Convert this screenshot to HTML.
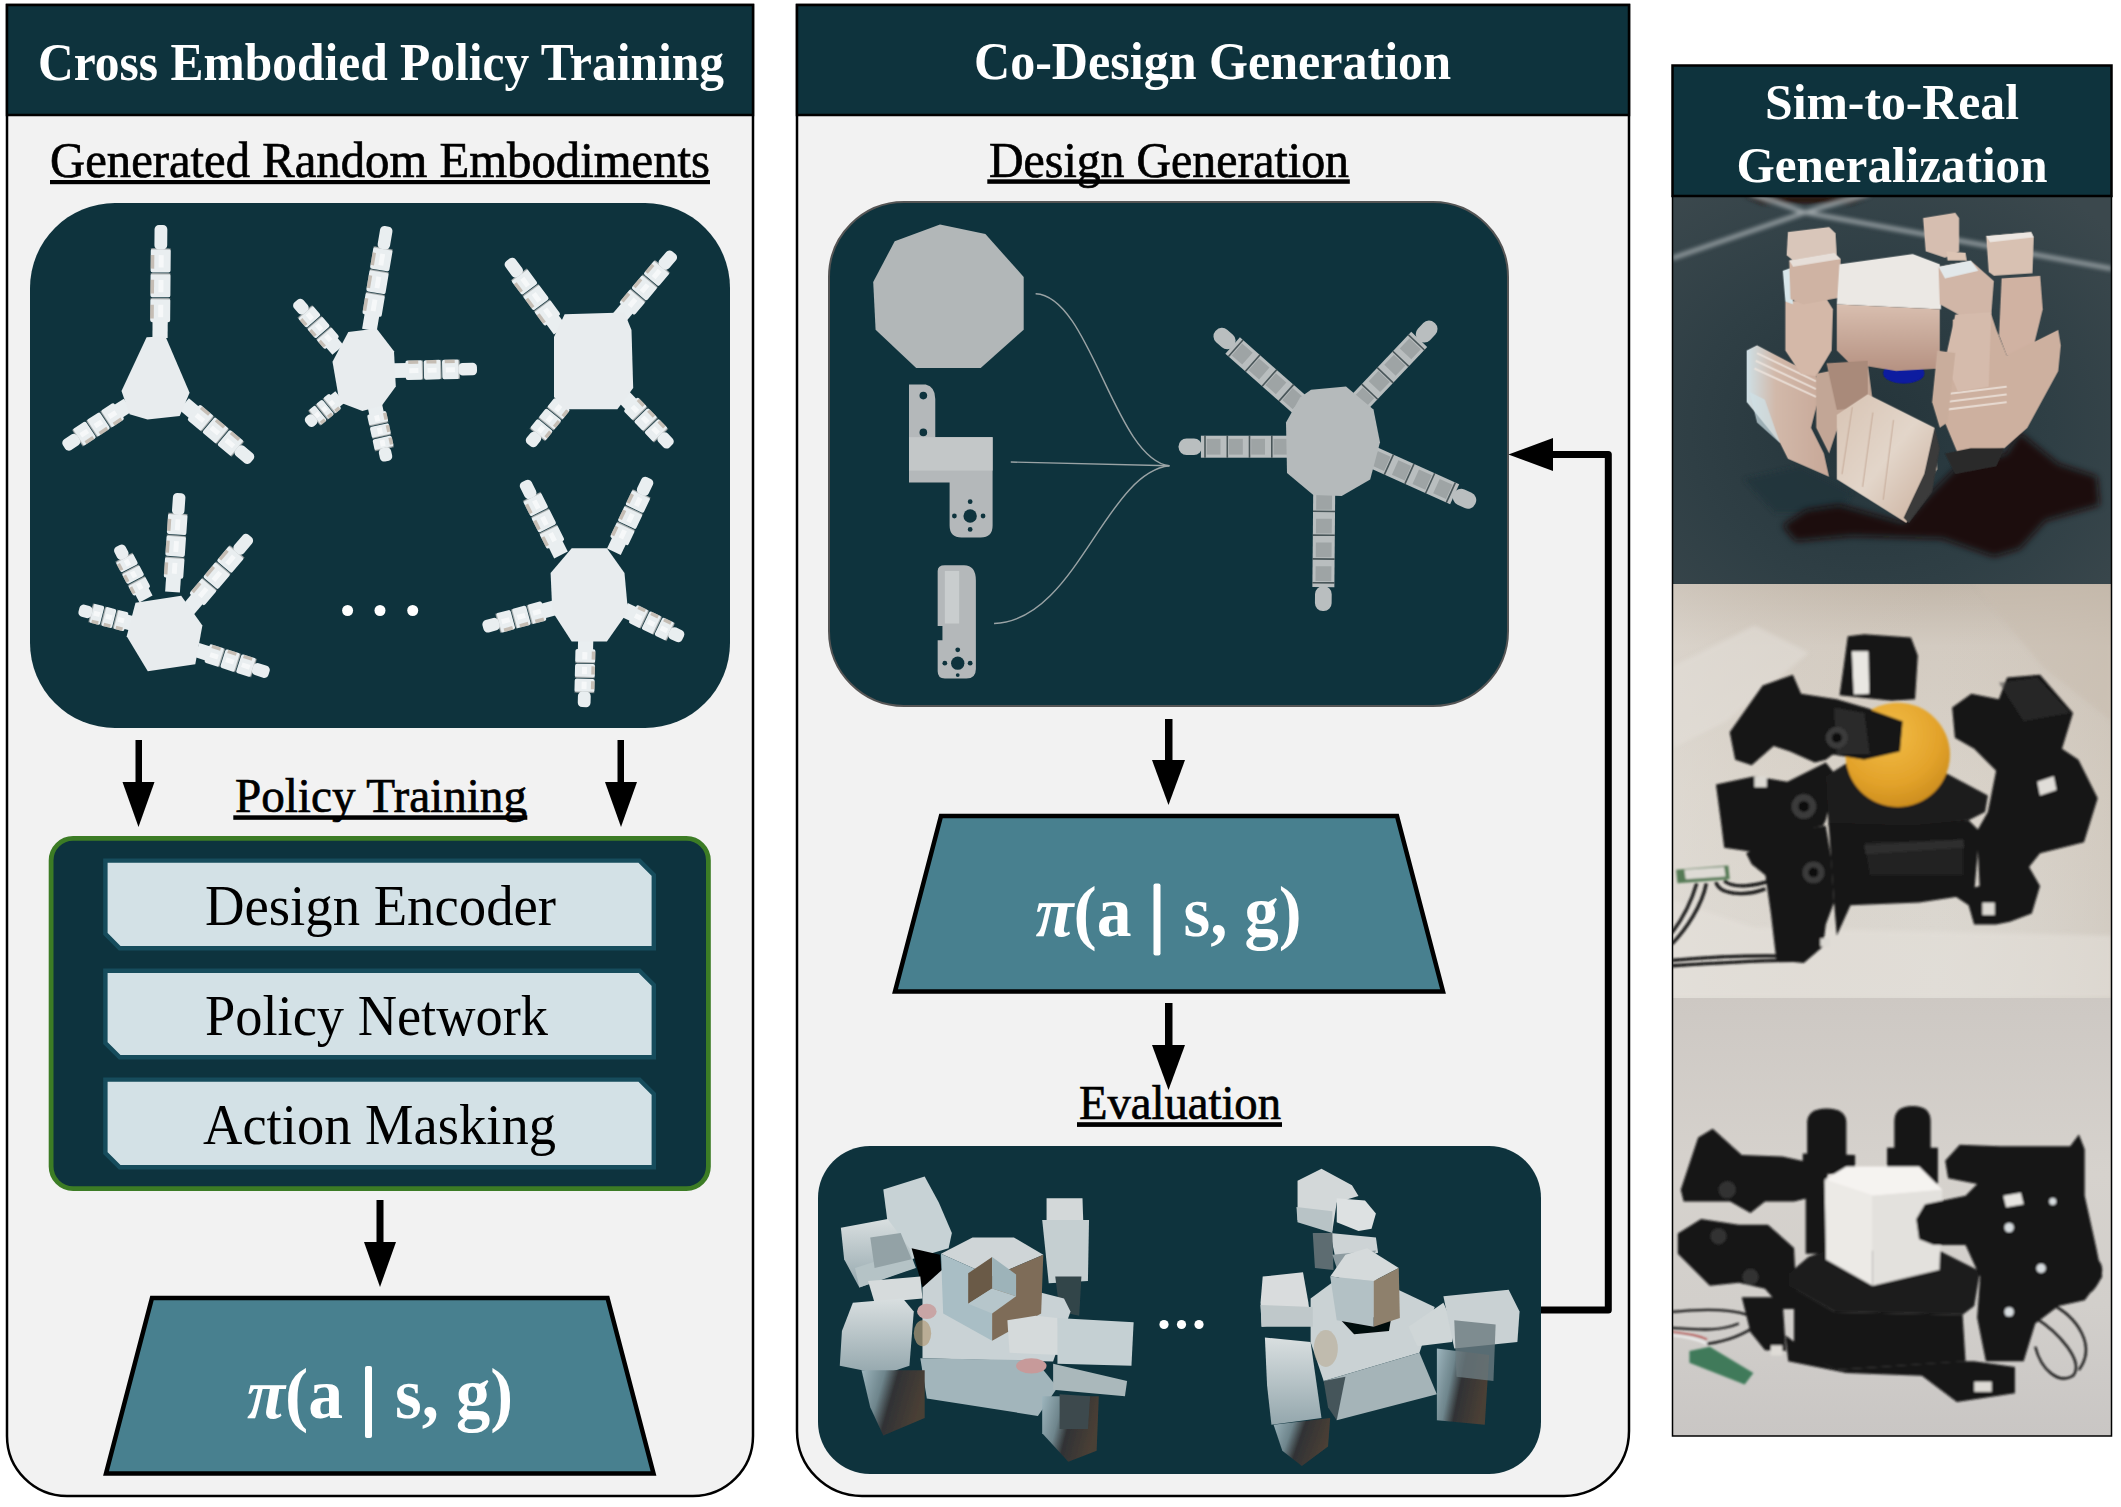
<!DOCTYPE html>
<html><head><meta charset="utf-8">
<style>
html,body{margin:0;padding:0;background:#fff;}
body{width:2121px;height:1507px;overflow:hidden;}
svg{display:block;}
text{font-family:"Liberation Serif",serif;}
</style></head>
<body>
<svg width="2121" height="1507" viewBox="0 0 2121 1507">
<defs>
  <filter id="blur1" x="-20%" y="-20%" width="140%" height="140%"><feGaussianBlur stdDeviation="1.2"/></filter>
  <filter id="blur3" x="-50%" y="-50%" width="200%" height="200%"><feGaussianBlur stdDeviation="3"/></filter>
  <filter id="blur8" x="-50%" y="-50%" width="200%" height="200%"><feGaussianBlur stdDeviation="8"/></filter>
  <filter id="blur15" x="-50%" y="-50%" width="200%" height="200%"><feGaussianBlur stdDeviation="15"/></filter>
</defs>
<rect width="2121" height="1507" fill="#ffffff"/>

<!-- ============ LEFT PANEL ============ -->
<path d="M7,5 H753 V1436 A60,60 0 0 1 693,1496 H67 A60,60 0 0 1 7,1436 Z" fill="#f2f2f2" stroke="#000" stroke-width="2.5"/>
<rect x="7" y="5" width="746" height="110" fill="#0e333d" stroke="#000" stroke-width="2.5"/>
<text x="38" y="80" font-size="52" font-weight="bold" fill="#fff" textLength="686" lengthAdjust="spacingAndGlyphs">Cross Embodied Policy Training</text>

<text x="50" y="177" font-size="50" fill="#000" stroke="#000" stroke-width="0.7" textLength="660" lengthAdjust="spacingAndGlyphs">Generated Random Embodiments</text>
<rect x="50" y="180" width="660" height="4.2" fill="#000"/>

<rect x="30" y="203" width="700" height="525" rx="85" ry="85" fill="#0e333d"/>
<g transform="translate(160.0,338.0) rotate(-89.5)"><rect x="0" y="-7.6" width="17.8" height="15.2" fill="#e9eef0"/><rect x="15.8" y="-10.0" width="23.9" height="20.0" rx="2" fill="#e9eef0"/><rect x="19.5" y="-10.0" width="13.7" height="3.6" fill="#a89684" opacity="0.55"/><rect x="20.8" y="-2.0" width="12.4" height="5.0" fill="#ffffff" opacity="0.6"/><rect x="38.7" y="-10.0" width="1.5" height="20.0" fill="#8b8f90" opacity="0.6"/><rect x="40.7" y="-10.0" width="23.9" height="20.0" rx="2" fill="#e9eef0"/><rect x="44.4" y="-10.0" width="13.7" height="3.6" fill="#a89684" opacity="0.55"/><rect x="45.7" y="-2.0" width="12.4" height="5.0" fill="#ffffff" opacity="0.6"/><rect x="63.5" y="-10.0" width="1.5" height="20.0" fill="#8b8f90" opacity="0.6"/><rect x="65.5" y="-10.0" width="23.9" height="20.0" rx="2" fill="#e9eef0"/><rect x="69.3" y="-10.0" width="13.7" height="3.6" fill="#a89684" opacity="0.55"/><rect x="70.5" y="-2.0" width="12.4" height="5.0" fill="#ffffff" opacity="0.6"/><rect x="88.4" y="-10.0" width="1.5" height="20.0" fill="#8b8f90" opacity="0.6"/><rect x="88.4" y="-6.4" width="24.6" height="12.8" rx="4.4" fill="#e9eef0"/></g>
<g transform="translate(128.0,405.0) rotate(146.7)"><rect x="0" y="-7.6" width="12.7" height="15.2" fill="#e9eef0"/><rect x="10.7" y="-10.0" width="15.8" height="20.0" rx="2" fill="#e9eef0"/><rect x="13.2" y="-10.0" width="9.3" height="3.6" fill="#a89684" opacity="0.55"/><rect x="14.1" y="-2.0" width="8.4" height="5.0" fill="#ffffff" opacity="0.6"/><rect x="25.6" y="-10.0" width="1.5" height="20.0" fill="#8b8f90" opacity="0.6"/><rect x="27.6" y="-10.0" width="15.8" height="20.0" rx="2" fill="#e9eef0"/><rect x="30.1" y="-10.0" width="9.3" height="3.6" fill="#a89684" opacity="0.55"/><rect x="30.9" y="-2.0" width="8.4" height="5.0" fill="#ffffff" opacity="0.6"/><rect x="42.4" y="-10.0" width="1.5" height="20.0" fill="#8b8f90" opacity="0.6"/><rect x="44.4" y="-10.0" width="15.8" height="20.0" rx="2" fill="#e9eef0"/><rect x="46.9" y="-10.0" width="9.3" height="3.6" fill="#a89684" opacity="0.55"/><rect x="47.8" y="-2.0" width="8.4" height="5.0" fill="#ffffff" opacity="0.6"/><rect x="59.2" y="-10.0" width="1.5" height="20.0" fill="#8b8f90" opacity="0.6"/><rect x="59.2" y="-6.4" width="17.3" height="12.8" rx="4.4" fill="#e9eef0"/></g>
<g transform="translate(184.0,404.0) rotate(40.0)"><rect x="0" y="-7.6" width="14.4" height="15.2" fill="#e9eef0"/><rect x="12.4" y="-10.0" width="18.5" height="20.0" rx="2" fill="#e9eef0"/><rect x="15.4" y="-10.0" width="10.7" height="3.6" fill="#a89684" opacity="0.55"/><rect x="16.3" y="-2.0" width="9.8" height="5.0" fill="#ffffff" opacity="0.6"/><rect x="29.9" y="-10.0" width="1.5" height="20.0" fill="#8b8f90" opacity="0.6"/><rect x="31.9" y="-10.0" width="18.5" height="20.0" rx="2" fill="#e9eef0"/><rect x="34.9" y="-10.0" width="10.7" height="3.6" fill="#a89684" opacity="0.55"/><rect x="35.8" y="-2.0" width="9.8" height="5.0" fill="#ffffff" opacity="0.6"/><rect x="49.5" y="-10.0" width="1.5" height="20.0" fill="#8b8f90" opacity="0.6"/><rect x="51.5" y="-10.0" width="18.5" height="20.0" rx="2" fill="#e9eef0"/><rect x="54.4" y="-10.0" width="10.7" height="3.6" fill="#a89684" opacity="0.55"/><rect x="55.4" y="-2.0" width="9.8" height="5.0" fill="#ffffff" opacity="0.6"/><rect x="69.0" y="-10.0" width="1.5" height="20.0" fill="#8b8f90" opacity="0.6"/><rect x="69.0" y="-6.4" width="19.7" height="12.8" rx="4.4" fill="#e9eef0"/></g>
<polygon points="146.6,337.2 165.4,336.3 189.6,392.7 179.7,416.0 147.5,419.6 129.6,414.2 121.5,391.0" fill="#e8ecee" />
<g transform="translate(369.4,330.0) rotate(-80.4)"><rect x="0" y="-7.4" width="16.7" height="14.8" fill="#e9eef0"/><rect x="14.7" y="-9.8" width="22.1" height="19.5" rx="2" fill="#e9eef0"/><rect x="18.2" y="-9.8" width="12.7" height="3.5" fill="#a89684" opacity="0.55"/><rect x="19.3" y="-2.0" width="11.6" height="4.9" fill="#ffffff" opacity="0.6"/><rect x="35.8" y="-9.8" width="1.5" height="19.5" fill="#8b8f90" opacity="0.6"/><rect x="37.8" y="-9.8" width="22.1" height="19.5" rx="2" fill="#e9eef0"/><rect x="41.3" y="-9.8" width="12.7" height="3.5" fill="#a89684" opacity="0.55"/><rect x="42.5" y="-2.0" width="11.6" height="4.9" fill="#ffffff" opacity="0.6"/><rect x="58.9" y="-9.8" width="1.5" height="19.5" fill="#8b8f90" opacity="0.6"/><rect x="60.9" y="-9.8" width="22.1" height="19.5" rx="2" fill="#e9eef0"/><rect x="64.4" y="-9.8" width="12.7" height="3.5" fill="#a89684" opacity="0.55"/><rect x="65.6" y="-2.0" width="11.6" height="4.9" fill="#ffffff" opacity="0.6"/><rect x="82.1" y="-9.8" width="1.5" height="19.5" fill="#8b8f90" opacity="0.6"/><rect x="82.1" y="-6.2" width="23.0" height="12.5" rx="4.3" fill="#e9eef0"/></g>
<g transform="translate(338.0,350.0) rotate(-130.6)"><rect x="0" y="-7.4" width="11.0" height="14.8" fill="#e9eef0"/><rect x="9.0" y="-9.8" width="13.2" height="19.5" rx="2" fill="#e9eef0"/><rect x="11.2" y="-9.8" width="7.8" height="3.5" fill="#a89684" opacity="0.55"/><rect x="11.9" y="-2.0" width="7.1" height="4.9" fill="#ffffff" opacity="0.6"/><rect x="21.2" y="-9.8" width="1.5" height="19.5" fill="#8b8f90" opacity="0.6"/><rect x="23.2" y="-9.8" width="13.2" height="19.5" rx="2" fill="#e9eef0"/><rect x="25.4" y="-9.8" width="7.8" height="3.5" fill="#a89684" opacity="0.55"/><rect x="26.1" y="-2.0" width="7.1" height="4.9" fill="#ffffff" opacity="0.6"/><rect x="35.4" y="-9.8" width="1.5" height="19.5" fill="#8b8f90" opacity="0.6"/><rect x="37.4" y="-9.8" width="13.2" height="19.5" rx="2" fill="#e9eef0"/><rect x="39.6" y="-9.8" width="7.8" height="3.5" fill="#a89684" opacity="0.55"/><rect x="40.3" y="-2.0" width="7.1" height="4.9" fill="#ffffff" opacity="0.6"/><rect x="49.6" y="-9.8" width="1.5" height="19.5" fill="#8b8f90" opacity="0.6"/><rect x="49.6" y="-6.2" width="14.9" height="12.5" rx="4.3" fill="#e9eef0"/></g>
<g transform="translate(394.0,370.6) rotate(-1.2)"><rect x="0" y="-7.4" width="13.6" height="14.8" fill="#e9eef0"/><rect x="11.6" y="-9.8" width="17.3" height="19.5" rx="2" fill="#e9eef0"/><rect x="14.4" y="-9.8" width="10.0" height="3.5" fill="#a89684" opacity="0.55"/><rect x="15.3" y="-2.0" width="9.1" height="4.9" fill="#ffffff" opacity="0.6"/><rect x="27.9" y="-9.8" width="1.5" height="19.5" fill="#8b8f90" opacity="0.6"/><rect x="29.9" y="-9.8" width="17.3" height="19.5" rx="2" fill="#e9eef0"/><rect x="32.6" y="-9.8" width="10.0" height="3.5" fill="#a89684" opacity="0.55"/><rect x="33.5" y="-2.0" width="9.1" height="4.9" fill="#ffffff" opacity="0.6"/><rect x="46.2" y="-9.8" width="1.5" height="19.5" fill="#8b8f90" opacity="0.6"/><rect x="48.2" y="-9.8" width="17.3" height="19.5" rx="2" fill="#e9eef0"/><rect x="50.9" y="-9.8" width="10.0" height="3.5" fill="#a89684" opacity="0.55"/><rect x="51.8" y="-2.0" width="9.1" height="4.9" fill="#ffffff" opacity="0.6"/><rect x="64.4" y="-9.8" width="1.5" height="19.5" fill="#8b8f90" opacity="0.6"/><rect x="64.4" y="-6.2" width="18.6" height="12.5" rx="4.3" fill="#e9eef0"/></g>
<g transform="translate(340.0,397.0) rotate(140.7)"><rect x="0" y="-7.4" width="8.0" height="14.8" fill="#e9eef0"/><rect x="6.0" y="-9.8" width="8.4" height="19.5" rx="2" fill="#e9eef0"/><rect x="7.4" y="-9.8" width="5.2" height="3.5" fill="#a89684" opacity="0.55"/><rect x="7.8" y="-2.0" width="4.7" height="4.9" fill="#ffffff" opacity="0.6"/><rect x="13.3" y="-9.8" width="1.5" height="19.5" fill="#8b8f90" opacity="0.6"/><rect x="15.3" y="-9.8" width="8.4" height="19.5" rx="2" fill="#e9eef0"/><rect x="16.8" y="-9.8" width="5.2" height="3.5" fill="#a89684" opacity="0.55"/><rect x="17.2" y="-2.0" width="4.7" height="4.9" fill="#ffffff" opacity="0.6"/><rect x="22.7" y="-9.8" width="1.5" height="19.5" fill="#8b8f90" opacity="0.6"/><rect x="24.7" y="-9.8" width="8.4" height="19.5" rx="2" fill="#e9eef0"/><rect x="26.1" y="-9.8" width="5.2" height="3.5" fill="#a89684" opacity="0.55"/><rect x="26.6" y="-2.0" width="4.7" height="4.9" fill="#ffffff" opacity="0.6"/><rect x="32.1" y="-9.8" width="1.5" height="19.5" fill="#8b8f90" opacity="0.6"/><rect x="32.1" y="-6.2" width="10.5" height="12.5" rx="4.3" fill="#e9eef0"/></g>
<g transform="translate(374.7,405.0) rotate(77.6)"><rect x="0" y="-7.4" width="10.0" height="14.8" fill="#e9eef0"/><rect x="8.0" y="-9.8" width="11.6" height="19.5" rx="2" fill="#e9eef0"/><rect x="9.9" y="-9.8" width="6.9" height="3.5" fill="#a89684" opacity="0.55"/><rect x="10.5" y="-2.0" width="6.3" height="4.9" fill="#ffffff" opacity="0.6"/><rect x="18.6" y="-9.8" width="1.5" height="19.5" fill="#8b8f90" opacity="0.6"/><rect x="20.6" y="-9.8" width="11.6" height="19.5" rx="2" fill="#e9eef0"/><rect x="22.5" y="-9.8" width="6.9" height="3.5" fill="#a89684" opacity="0.55"/><rect x="23.2" y="-2.0" width="6.3" height="4.9" fill="#ffffff" opacity="0.6"/><rect x="31.3" y="-9.8" width="1.5" height="19.5" fill="#8b8f90" opacity="0.6"/><rect x="33.3" y="-9.8" width="11.6" height="19.5" rx="2" fill="#e9eef0"/><rect x="35.1" y="-9.8" width="6.9" height="3.5" fill="#a89684" opacity="0.55"/><rect x="35.8" y="-2.0" width="6.3" height="4.9" fill="#ffffff" opacity="0.6"/><rect x="43.9" y="-9.8" width="1.5" height="19.5" fill="#8b8f90" opacity="0.6"/><rect x="43.9" y="-6.2" width="13.5" height="12.5" rx="4.3" fill="#e9eef0"/></g>
<polygon points="348.3,331.9 376.5,328.4 394.0,351.2 395.8,386.4 381.7,405.8 362.4,411.0 339.5,402.3 332.5,361.8" fill="#e8ecee" />
<g transform="translate(560.0,330.0) rotate(-126.5)"><rect x="0" y="-7.6" width="14.2" height="15.2" fill="#e9eef0"/><rect x="12.2" y="-10.0" width="18.2" height="20.0" rx="2" fill="#e9eef0"/><rect x="15.1" y="-10.0" width="10.6" height="3.6" fill="#a89684" opacity="0.55"/><rect x="16.1" y="-2.0" width="9.6" height="5.0" fill="#ffffff" opacity="0.6"/><rect x="29.5" y="-10.0" width="1.5" height="20.0" fill="#8b8f90" opacity="0.6"/><rect x="31.5" y="-10.0" width="18.2" height="20.0" rx="2" fill="#e9eef0"/><rect x="34.3" y="-10.0" width="10.6" height="3.6" fill="#a89684" opacity="0.55"/><rect x="35.3" y="-2.0" width="9.6" height="5.0" fill="#ffffff" opacity="0.6"/><rect x="48.7" y="-10.0" width="1.5" height="20.0" fill="#8b8f90" opacity="0.6"/><rect x="50.7" y="-10.0" width="18.2" height="20.0" rx="2" fill="#e9eef0"/><rect x="53.6" y="-10.0" width="10.6" height="3.6" fill="#a89684" opacity="0.55"/><rect x="54.5" y="-2.0" width="9.6" height="5.0" fill="#ffffff" opacity="0.6"/><rect x="67.9" y="-10.0" width="1.5" height="20.0" fill="#8b8f90" opacity="0.6"/><rect x="67.9" y="-6.4" width="19.5" height="12.8" rx="4.4" fill="#e9eef0"/></g>
<g transform="translate(619.0,318.0) rotate(-49.9)"><rect x="0" y="-7.6" width="13.9" height="15.2" fill="#e9eef0"/><rect x="11.9" y="-10.0" width="17.8" height="20.0" rx="2" fill="#e9eef0"/><rect x="14.8" y="-10.0" width="10.3" height="3.6" fill="#a89684" opacity="0.55"/><rect x="15.7" y="-2.0" width="9.4" height="5.0" fill="#ffffff" opacity="0.6"/><rect x="28.7" y="-10.0" width="1.5" height="20.0" fill="#8b8f90" opacity="0.6"/><rect x="30.7" y="-10.0" width="17.8" height="20.0" rx="2" fill="#e9eef0"/><rect x="33.5" y="-10.0" width="10.3" height="3.6" fill="#a89684" opacity="0.55"/><rect x="34.5" y="-2.0" width="9.4" height="5.0" fill="#ffffff" opacity="0.6"/><rect x="47.5" y="-10.0" width="1.5" height="20.0" fill="#8b8f90" opacity="0.6"/><rect x="49.5" y="-10.0" width="17.8" height="20.0" rx="2" fill="#e9eef0"/><rect x="52.3" y="-10.0" width="10.3" height="3.6" fill="#a89684" opacity="0.55"/><rect x="53.2" y="-2.0" width="9.4" height="5.0" fill="#ffffff" opacity="0.6"/><rect x="66.2" y="-10.0" width="1.5" height="20.0" fill="#8b8f90" opacity="0.6"/><rect x="66.2" y="-6.4" width="19.1" height="12.8" rx="4.4" fill="#e9eef0"/></g>
<g transform="translate(568.0,397.0) rotate(129.1)"><rect x="0" y="-7.6" width="10.7" height="15.2" fill="#e9eef0"/><rect x="8.7" y="-10.0" width="12.6" height="20.0" rx="2" fill="#e9eef0"/><rect x="10.7" y="-10.0" width="7.5" height="3.6" fill="#a89684" opacity="0.55"/><rect x="11.4" y="-2.0" width="6.8" height="5.0" fill="#ffffff" opacity="0.6"/><rect x="20.3" y="-10.0" width="1.5" height="20.0" fill="#8b8f90" opacity="0.6"/><rect x="22.3" y="-10.0" width="12.6" height="20.0" rx="2" fill="#e9eef0"/><rect x="24.3" y="-10.0" width="7.5" height="3.6" fill="#a89684" opacity="0.55"/><rect x="25.0" y="-2.0" width="6.8" height="5.0" fill="#ffffff" opacity="0.6"/><rect x="33.9" y="-10.0" width="1.5" height="20.0" fill="#8b8f90" opacity="0.6"/><rect x="35.9" y="-10.0" width="12.6" height="20.0" rx="2" fill="#e9eef0"/><rect x="37.9" y="-10.0" width="7.5" height="3.6" fill="#a89684" opacity="0.55"/><rect x="38.6" y="-2.0" width="6.8" height="5.0" fill="#ffffff" opacity="0.6"/><rect x="47.5" y="-10.0" width="1.5" height="20.0" fill="#8b8f90" opacity="0.6"/><rect x="47.5" y="-6.4" width="14.4" height="12.8" rx="4.4" fill="#e9eef0"/></g>
<g transform="translate(624.0,397.0) rotate(46.2)"><rect x="0" y="-7.6" width="11.5" height="15.2" fill="#e9eef0"/><rect x="9.5" y="-10.0" width="13.9" height="20.0" rx="2" fill="#e9eef0"/><rect x="11.7" y="-10.0" width="8.2" height="3.6" fill="#a89684" opacity="0.55"/><rect x="12.5" y="-2.0" width="7.5" height="5.0" fill="#ffffff" opacity="0.6"/><rect x="22.4" y="-10.0" width="1.5" height="20.0" fill="#8b8f90" opacity="0.6"/><rect x="24.4" y="-10.0" width="13.9" height="20.0" rx="2" fill="#e9eef0"/><rect x="26.7" y="-10.0" width="8.2" height="3.6" fill="#a89684" opacity="0.55"/><rect x="27.4" y="-2.0" width="7.5" height="5.0" fill="#ffffff" opacity="0.6"/><rect x="37.4" y="-10.0" width="1.5" height="20.0" fill="#8b8f90" opacity="0.6"/><rect x="39.4" y="-10.0" width="13.9" height="20.0" rx="2" fill="#e9eef0"/><rect x="41.6" y="-10.0" width="8.2" height="3.6" fill="#a89684" opacity="0.55"/><rect x="42.4" y="-2.0" width="7.5" height="5.0" fill="#ffffff" opacity="0.6"/><rect x="52.3" y="-10.0" width="1.5" height="20.0" fill="#8b8f90" opacity="0.6"/><rect x="52.3" y="-6.4" width="15.6" height="12.8" rx="4.4" fill="#e9eef0"/></g>
<polygon points="564.6,314.3 624.4,312.6 631.5,330.0 633.2,388.0 617.4,409.3 564.6,409.3 554.0,397.0 554.0,337.0" fill="#e8ecee" />
<g transform="translate(134.0,623.9) rotate(-165.6)"><rect x="0" y="-7.4" width="9.9" height="14.8" fill="#e9eef0"/><rect x="7.9" y="-9.8" width="11.5" height="19.5" rx="2" fill="#e9eef0"/><rect x="9.8" y="-9.8" width="6.9" height="3.5" fill="#a89684" opacity="0.55"/><rect x="10.4" y="-2.0" width="6.2" height="4.9" fill="#ffffff" opacity="0.6"/><rect x="18.4" y="-9.8" width="1.5" height="19.5" fill="#8b8f90" opacity="0.6"/><rect x="20.4" y="-9.8" width="11.5" height="19.5" rx="2" fill="#e9eef0"/><rect x="22.3" y="-9.8" width="6.9" height="3.5" fill="#a89684" opacity="0.55"/><rect x="22.9" y="-2.0" width="6.2" height="4.9" fill="#ffffff" opacity="0.6"/><rect x="30.9" y="-9.8" width="1.5" height="19.5" fill="#8b8f90" opacity="0.6"/><rect x="32.9" y="-9.8" width="11.5" height="19.5" rx="2" fill="#e9eef0"/><rect x="34.8" y="-9.8" width="6.9" height="3.5" fill="#a89684" opacity="0.55"/><rect x="35.4" y="-2.0" width="6.2" height="4.9" fill="#ffffff" opacity="0.6"/><rect x="43.4" y="-9.8" width="1.5" height="19.5" fill="#8b8f90" opacity="0.6"/><rect x="43.4" y="-6.2" width="13.4" height="12.5" rx="4.3" fill="#e9eef0"/></g>
<g transform="translate(146.0,599.0) rotate(-117.8)"><rect x="0" y="-7.4" width="10.4" height="14.8" fill="#e9eef0"/><rect x="8.4" y="-9.8" width="12.2" height="19.5" rx="2" fill="#e9eef0"/><rect x="10.4" y="-9.8" width="7.3" height="3.5" fill="#a89684" opacity="0.55"/><rect x="11.0" y="-2.0" width="6.6" height="4.9" fill="#ffffff" opacity="0.6"/><rect x="19.6" y="-9.8" width="1.5" height="19.5" fill="#8b8f90" opacity="0.6"/><rect x="21.6" y="-9.8" width="12.2" height="19.5" rx="2" fill="#e9eef0"/><rect x="23.6" y="-9.8" width="7.3" height="3.5" fill="#a89684" opacity="0.55"/><rect x="24.2" y="-2.0" width="6.6" height="4.9" fill="#ffffff" opacity="0.6"/><rect x="32.8" y="-9.8" width="1.5" height="19.5" fill="#8b8f90" opacity="0.6"/><rect x="34.8" y="-9.8" width="12.2" height="19.5" rx="2" fill="#e9eef0"/><rect x="36.7" y="-9.8" width="7.3" height="3.5" fill="#a89684" opacity="0.55"/><rect x="37.4" y="-2.0" width="6.6" height="4.9" fill="#ffffff" opacity="0.6"/><rect x="46.0" y="-9.8" width="1.5" height="19.5" fill="#8b8f90" opacity="0.6"/><rect x="46.0" y="-6.2" width="14.0" height="12.5" rx="4.3" fill="#e9eef0"/></g>
<g transform="translate(172.5,592.0) rotate(-86.0)"><rect x="0" y="-7.4" width="15.9" height="14.8" fill="#e9eef0"/><rect x="13.9" y="-9.8" width="20.8" height="19.5" rx="2" fill="#e9eef0"/><rect x="17.2" y="-9.8" width="12.0" height="3.5" fill="#a89684" opacity="0.55"/><rect x="18.3" y="-2.0" width="10.9" height="4.9" fill="#ffffff" opacity="0.6"/><rect x="33.7" y="-9.8" width="1.5" height="19.5" fill="#8b8f90" opacity="0.6"/><rect x="35.7" y="-9.8" width="20.8" height="19.5" rx="2" fill="#e9eef0"/><rect x="39.0" y="-9.8" width="12.0" height="3.5" fill="#a89684" opacity="0.55"/><rect x="40.1" y="-2.0" width="10.9" height="4.9" fill="#ffffff" opacity="0.6"/><rect x="55.6" y="-9.8" width="1.5" height="19.5" fill="#8b8f90" opacity="0.6"/><rect x="57.6" y="-9.8" width="20.8" height="19.5" rx="2" fill="#e9eef0"/><rect x="60.8" y="-9.8" width="12.0" height="3.5" fill="#a89684" opacity="0.55"/><rect x="61.9" y="-2.0" width="10.9" height="4.9" fill="#ffffff" opacity="0.6"/><rect x="77.4" y="-9.8" width="1.5" height="19.5" fill="#8b8f90" opacity="0.6"/><rect x="77.4" y="-6.2" width="21.8" height="12.5" rx="4.3" fill="#e9eef0"/></g>
<g transform="translate(188.0,610.0) rotate(-50.0)"><rect x="0" y="-7.4" width="15.5" height="14.8" fill="#e9eef0"/><rect x="13.5" y="-9.8" width="20.2" height="19.5" rx="2" fill="#e9eef0"/><rect x="16.7" y="-9.8" width="11.7" height="3.5" fill="#a89684" opacity="0.55"/><rect x="17.8" y="-2.0" width="10.6" height="4.9" fill="#ffffff" opacity="0.6"/><rect x="32.8" y="-9.8" width="1.5" height="19.5" fill="#8b8f90" opacity="0.6"/><rect x="34.8" y="-9.8" width="20.2" height="19.5" rx="2" fill="#e9eef0"/><rect x="37.9" y="-9.8" width="11.7" height="3.5" fill="#a89684" opacity="0.55"/><rect x="39.0" y="-2.0" width="10.6" height="4.9" fill="#ffffff" opacity="0.6"/><rect x="54.0" y="-9.8" width="1.5" height="19.5" fill="#8b8f90" opacity="0.6"/><rect x="56.0" y="-9.8" width="20.2" height="19.5" rx="2" fill="#e9eef0"/><rect x="59.2" y="-9.8" width="11.7" height="3.5" fill="#a89684" opacity="0.55"/><rect x="60.2" y="-2.0" width="10.6" height="4.9" fill="#ffffff" opacity="0.6"/><rect x="75.2" y="-9.8" width="1.5" height="19.5" fill="#8b8f90" opacity="0.6"/><rect x="75.2" y="-6.2" width="21.3" height="12.5" rx="4.3" fill="#e9eef0"/></g>
<g transform="translate(197.0,650.0) rotate(17.7)"><rect x="0" y="-7.4" width="12.6" height="14.8" fill="#e9eef0"/><rect x="10.6" y="-9.8" width="15.6" height="19.5" rx="2" fill="#e9eef0"/><rect x="13.1" y="-9.8" width="9.1" height="3.5" fill="#a89684" opacity="0.55"/><rect x="13.9" y="-2.0" width="8.3" height="4.9" fill="#ffffff" opacity="0.6"/><rect x="25.2" y="-9.8" width="1.5" height="19.5" fill="#8b8f90" opacity="0.6"/><rect x="27.2" y="-9.8" width="15.6" height="19.5" rx="2" fill="#e9eef0"/><rect x="29.7" y="-9.8" width="9.1" height="3.5" fill="#a89684" opacity="0.55"/><rect x="30.5" y="-2.0" width="8.3" height="4.9" fill="#ffffff" opacity="0.6"/><rect x="41.8" y="-9.8" width="1.5" height="19.5" fill="#8b8f90" opacity="0.6"/><rect x="43.8" y="-9.8" width="15.6" height="19.5" rx="2" fill="#e9eef0"/><rect x="46.3" y="-9.8" width="9.1" height="3.5" fill="#a89684" opacity="0.55"/><rect x="47.2" y="-2.0" width="8.3" height="4.9" fill="#ffffff" opacity="0.6"/><rect x="58.5" y="-9.8" width="1.5" height="19.5" fill="#8b8f90" opacity="0.6"/><rect x="58.5" y="-6.2" width="17.1" height="12.5" rx="4.3" fill="#e9eef0"/></g>
<polygon points="135.5,602.7 181.2,595.7 202.4,625.6 195.3,664.3 147.8,671.3 126.7,636.2" fill="#e8ecee" />
<g transform="translate(561.0,555.0) rotate(-116.6)"><rect x="0" y="-7.6" width="13.6" height="15.2" fill="#e9eef0"/><rect x="11.6" y="-10.0" width="17.2" height="20.0" rx="2" fill="#e9eef0"/><rect x="14.3" y="-10.0" width="10.0" height="3.6" fill="#a89684" opacity="0.55"/><rect x="15.2" y="-2.0" width="9.1" height="5.0" fill="#ffffff" opacity="0.6"/><rect x="27.8" y="-10.0" width="1.5" height="20.0" fill="#8b8f90" opacity="0.6"/><rect x="29.8" y="-10.0" width="17.2" height="20.0" rx="2" fill="#e9eef0"/><rect x="32.5" y="-10.0" width="10.0" height="3.6" fill="#a89684" opacity="0.55"/><rect x="33.4" y="-2.0" width="9.1" height="5.0" fill="#ffffff" opacity="0.6"/><rect x="46.0" y="-10.0" width="1.5" height="20.0" fill="#8b8f90" opacity="0.6"/><rect x="48.0" y="-10.0" width="17.2" height="20.0" rx="2" fill="#e9eef0"/><rect x="50.7" y="-10.0" width="10.0" height="3.6" fill="#a89684" opacity="0.55"/><rect x="51.6" y="-2.0" width="9.1" height="5.0" fill="#ffffff" opacity="0.6"/><rect x="64.2" y="-10.0" width="1.5" height="20.0" fill="#8b8f90" opacity="0.6"/><rect x="64.2" y="-6.4" width="18.5" height="12.8" rx="4.4" fill="#e9eef0"/></g>
<g transform="translate(613.9,551.7) rotate(-64.5)"><rect x="0" y="-7.6" width="13.4" height="15.2" fill="#e9eef0"/><rect x="11.4" y="-10.0" width="17.0" height="20.0" rx="2" fill="#e9eef0"/><rect x="14.1" y="-10.0" width="9.9" height="3.6" fill="#a89684" opacity="0.55"/><rect x="15.0" y="-2.0" width="9.0" height="5.0" fill="#ffffff" opacity="0.6"/><rect x="27.4" y="-10.0" width="1.5" height="20.0" fill="#8b8f90" opacity="0.6"/><rect x="29.4" y="-10.0" width="17.0" height="20.0" rx="2" fill="#e9eef0"/><rect x="32.1" y="-10.0" width="9.9" height="3.6" fill="#a89684" opacity="0.55"/><rect x="33.0" y="-2.0" width="9.0" height="5.0" fill="#ffffff" opacity="0.6"/><rect x="45.3" y="-10.0" width="1.5" height="20.0" fill="#8b8f90" opacity="0.6"/><rect x="47.3" y="-10.0" width="17.0" height="20.0" rx="2" fill="#e9eef0"/><rect x="50.0" y="-10.0" width="9.9" height="3.6" fill="#a89684" opacity="0.55"/><rect x="50.9" y="-2.0" width="9.0" height="5.0" fill="#ffffff" opacity="0.6"/><rect x="63.3" y="-10.0" width="1.5" height="20.0" fill="#8b8f90" opacity="0.6"/><rect x="63.3" y="-6.4" width="18.3" height="12.8" rx="4.4" fill="#e9eef0"/></g>
<g transform="translate(554.0,608.0) rotate(164.7)"><rect x="0" y="-7.6" width="12.3" height="15.2" fill="#e9eef0"/><rect x="10.3" y="-10.0" width="15.2" height="20.0" rx="2" fill="#e9eef0"/><rect x="12.7" y="-10.0" width="8.9" height="3.6" fill="#a89684" opacity="0.55"/><rect x="13.5" y="-2.0" width="8.1" height="5.0" fill="#ffffff" opacity="0.6"/><rect x="24.5" y="-10.0" width="1.5" height="20.0" fill="#8b8f90" opacity="0.6"/><rect x="26.5" y="-10.0" width="15.2" height="20.0" rx="2" fill="#e9eef0"/><rect x="28.9" y="-10.0" width="8.9" height="3.6" fill="#a89684" opacity="0.55"/><rect x="29.7" y="-2.0" width="8.1" height="5.0" fill="#ffffff" opacity="0.6"/><rect x="40.7" y="-10.0" width="1.5" height="20.0" fill="#8b8f90" opacity="0.6"/><rect x="42.7" y="-10.0" width="15.2" height="20.0" rx="2" fill="#e9eef0"/><rect x="45.1" y="-10.0" width="8.9" height="3.6" fill="#a89684" opacity="0.55"/><rect x="45.9" y="-2.0" width="8.1" height="5.0" fill="#ffffff" opacity="0.6"/><rect x="56.9" y="-10.0" width="1.5" height="20.0" fill="#8b8f90" opacity="0.6"/><rect x="56.9" y="-6.4" width="16.7" height="12.8" rx="4.4" fill="#e9eef0"/></g>
<g transform="translate(624.5,609.8) rotate(25.7)"><rect x="0" y="-7.6" width="11.1" height="15.2" fill="#e9eef0"/><rect x="9.1" y="-10.0" width="13.3" height="20.0" rx="2" fill="#e9eef0"/><rect x="11.2" y="-10.0" width="7.9" height="3.6" fill="#a89684" opacity="0.55"/><rect x="11.9" y="-2.0" width="7.1" height="5.0" fill="#ffffff" opacity="0.6"/><rect x="21.4" y="-10.0" width="1.5" height="20.0" fill="#8b8f90" opacity="0.6"/><rect x="23.4" y="-10.0" width="13.3" height="20.0" rx="2" fill="#e9eef0"/><rect x="25.5" y="-10.0" width="7.9" height="3.6" fill="#a89684" opacity="0.55"/><rect x="26.2" y="-2.0" width="7.1" height="5.0" fill="#ffffff" opacity="0.6"/><rect x="35.7" y="-10.0" width="1.5" height="20.0" fill="#8b8f90" opacity="0.6"/><rect x="37.7" y="-10.0" width="13.3" height="20.0" rx="2" fill="#e9eef0"/><rect x="39.8" y="-10.0" width="7.9" height="3.6" fill="#a89684" opacity="0.55"/><rect x="40.5" y="-2.0" width="7.1" height="5.0" fill="#ffffff" opacity="0.6"/><rect x="50.0" y="-10.0" width="1.5" height="20.0" fill="#8b8f90" opacity="0.6"/><rect x="50.0" y="-6.4" width="15.0" height="12.8" rx="4.4" fill="#e9eef0"/></g>
<g transform="translate(585.7,639.7) rotate(91.4)"><rect x="0" y="-7.6" width="11.4" height="15.2" fill="#e9eef0"/><rect x="9.4" y="-10.0" width="13.8" height="20.0" rx="2" fill="#e9eef0"/><rect x="11.6" y="-10.0" width="8.1" height="3.6" fill="#a89684" opacity="0.55"/><rect x="12.4" y="-2.0" width="7.4" height="5.0" fill="#ffffff" opacity="0.6"/><rect x="22.2" y="-10.0" width="1.5" height="20.0" fill="#8b8f90" opacity="0.6"/><rect x="24.2" y="-10.0" width="13.8" height="20.0" rx="2" fill="#e9eef0"/><rect x="26.5" y="-10.0" width="8.1" height="3.6" fill="#a89684" opacity="0.55"/><rect x="27.2" y="-2.0" width="7.4" height="5.0" fill="#ffffff" opacity="0.6"/><rect x="37.0" y="-10.0" width="1.5" height="20.0" fill="#8b8f90" opacity="0.6"/><rect x="39.0" y="-10.0" width="13.8" height="20.0" rx="2" fill="#e9eef0"/><rect x="41.3" y="-10.0" width="8.1" height="3.6" fill="#a89684" opacity="0.55"/><rect x="42.0" y="-2.0" width="7.4" height="5.0" fill="#ffffff" opacity="0.6"/><rect x="51.9" y="-10.0" width="1.5" height="20.0" fill="#8b8f90" opacity="0.6"/><rect x="51.9" y="-6.4" width="15.5" height="12.8" rx="4.4" fill="#e9eef0"/></g>
<polygon points="571.7,548.2 606.9,548.2 624.5,573.0 628.0,611.5 606.9,641.4 571.7,641.4 552.3,611.5 550.6,573.0" fill="#e8ecee" />
<circle cx="347.6" cy="610.5" r="5.5" fill="#fff"/>
<circle cx="380" cy="610.5" r="5.5" fill="#fff"/>
<circle cx="412.7" cy="610.5" r="5.5" fill="#fff"/>

<!-- arrows -->
<g fill="#000">
  <rect x="135.5" y="740" width="6.5" height="44"/>
  <path d="M122.5,782 H154.5 L138.5,827 Z"/>
  <rect x="617.5" y="740" width="6.5" height="44"/>
  <path d="M605,782 H637 L621,827 Z"/>
</g>
<text x="235" y="812" font-size="48" fill="#000" stroke="#000" stroke-width="0.7" textLength="292" lengthAdjust="spacingAndGlyphs">Policy Training</text>
<rect x="233.3" y="815.3" width="294" height="4.5" fill="#000"/>

<rect x="51.1" y="838.4" width="657.3" height="350.2" rx="22" ry="22" fill="#0d333e" stroke="#3c7c25" stroke-width="4.8"/>
<g fill="#d3e1e6" stroke="#164c5c" stroke-width="4.4">
  <path d="M105.4,860.6 H639.5 L653.8,874.9 V948.2 H119.7 L105.4,933.9 Z"/>
  <path d="M105.4,970.7 H639.5 L653.8,985 V1057.3 H119.7 L105.4,1043 Z"/>
  <path d="M105.4,1079.6 H639.5 L653.8,1093.9 V1167.3 H119.7 L105.4,1153 Z"/>
</g>
<g font-size="56" fill="#000">
  <text x="205" y="925" textLength="351" lengthAdjust="spacingAndGlyphs">Design Encoder</text>
  <text x="205" y="1035" textLength="343" lengthAdjust="spacingAndGlyphs">Policy Network</text>
  <text x="203" y="1144" textLength="353" lengthAdjust="spacingAndGlyphs">Action Masking</text>
</g>

<g fill="#000">
  <rect x="376.5" y="1200" width="7" height="44"/>
  <path d="M364,1242 H396 L380,1287 Z"/>
</g>
<path d="M152,1298 H607.5 L653.5,1473.5 H106 Z" fill="#48808f" stroke="#000" stroke-width="4.5"/>
<g fill="#fff" font-size="72" font-weight="bold">
  <text x="247" y="1418" textLength="96" lengthAdjust="spacingAndGlyphs"><tspan font-style="italic">π</tspan>(a</text>
  <rect x="365" y="1366" width="7" height="72" rx="2" fill="#fff"/>
  <text x="395" y="1418" textLength="118" lengthAdjust="spacingAndGlyphs">s, g)</text>
</g>

<!-- ============ MIDDLE PANEL ============ -->
<path d="M797,5 H1629 V1431 A65,65 0 0 1 1564,1496 H862 A65,65 0 0 1 797,1431 Z" fill="#f2f2f2" stroke="#000" stroke-width="2.5"/>
<rect x="797" y="5" width="832" height="110" fill="#0e333d" stroke="#000" stroke-width="2.5"/>
<text x="974" y="79" font-size="52" font-weight="bold" fill="#fff" textLength="477" lengthAdjust="spacingAndGlyphs">Co-Design Generation</text>

<text x="989" y="176.5" font-size="50" fill="#000" stroke="#000" stroke-width="0.7" textLength="360" lengthAdjust="spacingAndGlyphs">Design Generation</text>
<rect x="987.3" y="179.3" width="362.5" height="4.5" fill="#000"/>

<rect x="829" y="202" width="679" height="504" rx="75" ry="75" fill="#0e333d" stroke="#555" stroke-width="2"/>
<polygon points="940.0,224.6 985.4,234.0 1023.7,277.0 1023.7,329.7 980.7,367.9 916.2,367.9 875.6,329.7 873.2,281.9 894.7,241.3" fill="#b2b7b8" />
<g transform="translate(780,0) scale(0.47778)">
<path d="M270,805 H305 Q325,810 325,835 V915 H445 V1010 H445 V1100 Q445,1125 420,1125 H380 Q355,1125 355,1100 V1010 H270 Z" fill="#b4b8ba"/>
<rect x="270" y="915" width="175" height="70" fill="#c3c7c8"/>
<circle cx="300" cy="828" r="8" fill="#0e333d"/><circle cx="300" cy="905" r="8" fill="#0e333d"/>
<circle cx="398" cy="1080" r="14" fill="#0e333d"/><circle cx="365" cy="1080" r="5" fill="#0e333d"/><circle cx="425" cy="1080" r="5" fill="#0e333d"/><circle cx="398" cy="1108" r="5" fill="#0e333d"/><circle cx="398" cy="1050" r="5" fill="#0e333d"/>
<path d="M330,1195 Q330,1183 345,1183 H385 Q410,1183 410,1215 V1400 Q410,1420 390,1420 H345 Q330,1420 330,1405 V1340 H340 V1310 H330 Z" fill="#b4b8ba"/>
<rect x="345" y="1195" width="30" height="110" fill="#c9cdce"/>
<circle cx="372" cy="1388" r="14" fill="#0e333d"/><circle cx="345" cy="1388" r="5" fill="#0e333d"/><circle cx="398" cy="1388" r="5" fill="#0e333d"/><circle cx="372" cy="1360" r="5" fill="#0e333d"/><circle cx="372" cy="1413" r="4" fill="#0e333d"/>
<g fill="none" stroke="#9aa3a5" stroke-width="3">
<path d="M535,615 C650,620 700,960 815,975"/>
<path d="M483,967 L815,975"/>
<path d="M448,1305 C620,1300 680,990 815,975"/>
</g></g>
<g transform="translate(1300.0,405.0) rotate(-138.6)"><rect x="0" y="-11.0" width="89.8" height="22.0" fill="#b9bebf"/><rect x="2.7" y="-7.9" width="13.9" height="15.8" fill="#9ea4a5"/><rect x="17.5" y="-11.0" width="1.6" height="22.0" fill="#1a2a2e" opacity="0.7"/><rect x="25.2" y="-7.9" width="13.9" height="15.8" fill="#9ea4a5"/><rect x="40.0" y="-11.0" width="1.6" height="22.0" fill="#1a2a2e" opacity="0.7"/><rect x="47.6" y="-7.9" width="13.9" height="15.8" fill="#9ea4a5"/><rect x="62.4" y="-11.0" width="1.6" height="22.0" fill="#1a2a2e" opacity="0.7"/><rect x="70.1" y="-7.9" width="13.9" height="15.8" fill="#9ea4a5"/><rect x="84.9" y="-11.0" width="1.6" height="22.0" fill="#1a2a2e" opacity="0.7"/><rect x="88.8" y="-8.4" width="23.5" height="16.7" rx="7.9" fill="#b9bebf"/></g>
<g transform="translate(1357.0,405.0) rotate(-46.5)"><rect x="0" y="-11.0" width="90.4" height="22.0" fill="#b9bebf"/><rect x="2.7" y="-7.9" width="14.0" height="15.8" fill="#9ea4a5"/><rect x="17.6" y="-11.0" width="1.6" height="22.0" fill="#1a2a2e" opacity="0.7"/><rect x="25.3" y="-7.9" width="14.0" height="15.8" fill="#9ea4a5"/><rect x="40.2" y="-11.0" width="1.6" height="22.0" fill="#1a2a2e" opacity="0.7"/><rect x="47.9" y="-7.9" width="14.0" height="15.8" fill="#9ea4a5"/><rect x="62.8" y="-11.0" width="1.6" height="22.0" fill="#1a2a2e" opacity="0.7"/><rect x="70.5" y="-7.9" width="14.0" height="15.8" fill="#9ea4a5"/><rect x="85.5" y="-11.0" width="1.6" height="22.0" fill="#1a2a2e" opacity="0.7"/><rect x="89.4" y="-8.4" width="23.6" height="16.7" rx="7.9" fill="#b9bebf"/></g>
<g transform="translate(1290.0,446.7) rotate(180.0)"><rect x="0" y="-11.0" width="89.1" height="22.0" fill="#b9bebf"/><rect x="2.7" y="-7.9" width="13.8" height="15.8" fill="#9ea4a5"/><rect x="17.4" y="-11.0" width="1.6" height="22.0" fill="#1a2a2e" opacity="0.7"/><rect x="25.0" y="-7.9" width="13.8" height="15.8" fill="#9ea4a5"/><rect x="39.7" y="-11.0" width="1.6" height="22.0" fill="#1a2a2e" opacity="0.7"/><rect x="47.2" y="-7.9" width="13.8" height="15.8" fill="#9ea4a5"/><rect x="61.9" y="-11.0" width="1.6" height="22.0" fill="#1a2a2e" opacity="0.7"/><rect x="69.5" y="-7.9" width="13.8" height="15.8" fill="#9ea4a5"/><rect x="84.2" y="-11.0" width="1.6" height="22.0" fill="#1a2a2e" opacity="0.7"/><rect x="88.1" y="-8.4" width="23.3" height="16.7" rx="7.9" fill="#b9bebf"/></g>
<g transform="translate(1372.0,457.0) rotate(24.3)"><rect x="0" y="-11.0" width="90.7" height="22.0" fill="#b9bebf"/><rect x="2.7" y="-7.9" width="14.1" height="15.8" fill="#9ea4a5"/><rect x="17.7" y="-11.0" width="1.6" height="22.0" fill="#1a2a2e" opacity="0.7"/><rect x="25.4" y="-7.9" width="14.1" height="15.8" fill="#9ea4a5"/><rect x="40.3" y="-11.0" width="1.6" height="22.0" fill="#1a2a2e" opacity="0.7"/><rect x="48.0" y="-7.9" width="14.1" height="15.8" fill="#9ea4a5"/><rect x="63.0" y="-11.0" width="1.6" height="22.0" fill="#1a2a2e" opacity="0.7"/><rect x="70.7" y="-7.9" width="14.1" height="15.8" fill="#9ea4a5"/><rect x="85.7" y="-11.0" width="1.6" height="22.0" fill="#1a2a2e" opacity="0.7"/><rect x="89.7" y="-8.4" width="23.7" height="16.7" rx="7.9" fill="#b9bebf"/></g>
<g transform="translate(1324.2,492.0) rotate(90.5)"><rect x="0" y="-11.0" width="95.2" height="22.0" fill="#b9bebf"/><rect x="2.9" y="-7.9" width="14.8" height="15.8" fill="#9ea4a5"/><rect x="18.6" y="-11.0" width="1.6" height="22.0" fill="#1a2a2e" opacity="0.7"/><rect x="26.7" y="-7.9" width="14.8" height="15.8" fill="#9ea4a5"/><rect x="42.4" y="-11.0" width="1.6" height="22.0" fill="#1a2a2e" opacity="0.7"/><rect x="50.5" y="-7.9" width="14.8" height="15.8" fill="#9ea4a5"/><rect x="66.2" y="-11.0" width="1.6" height="22.0" fill="#1a2a2e" opacity="0.7"/><rect x="74.3" y="-7.9" width="14.8" height="15.8" fill="#9ea4a5"/><rect x="90.0" y="-11.0" width="1.6" height="22.0" fill="#1a2a2e" opacity="0.7"/><rect x="94.2" y="-8.4" width="24.8" height="16.7" rx="7.9" fill="#b9bebf"/></g>
<polygon points="1311.0,389.8 1346.0,386.5 1373.5,409.5 1380.0,442.3 1370.2,479.5 1341.7,496.0 1313.3,494.9 1287.0,473.0 1286.0,422.6 1300.0,397.4" fill="#b5babb" />

<g fill="#000">
  <rect x="1165" y="719" width="7.5" height="43"/>
  <path d="M1152,760 H1185 L1168.5,805 Z"/>
  <rect x="1165" y="1003" width="7.5" height="43"/>
  <path d="M1152,1045 H1185 L1168.5,1090 Z"/>
</g>
<path d="M941,816 H1397 L1443,991.5 H895 Z" fill="#48808f" stroke="#000" stroke-width="4.5"/>
<g transform="translate(788.5,-482.5)"><g fill="#fff" font-size="72" font-weight="bold">
  <text x="247" y="1418" textLength="96" lengthAdjust="spacingAndGlyphs"><tspan font-style="italic">π</tspan>(a</text>
  <rect x="365" y="1366" width="7" height="72" rx="2" fill="#fff"/>
  <text x="395" y="1418" textLength="118" lengthAdjust="spacingAndGlyphs">s, g)</text>
</g></g>

<text x="1079" y="1119" font-size="48" fill="#000" stroke="#000" stroke-width="0.7" textLength="202" lengthAdjust="spacingAndGlyphs">Evaluation</text>
<rect x="1077" y="1122.2" width="205" height="4.7" fill="#000"/>

<rect x="818" y="1146" width="723" height="328" rx="52" ry="52" fill="#0e333d"/>
<defs>
<linearGradient id="evBox" x1="0" y1="0" x2="0" y2="1"><stop offset="0" stop-color="#d9dfe0"/><stop offset="1" stop-color="#94a7ad"/></linearGradient>
<linearGradient id="evStem" x1="0" y1="0" x2="1" y2="0.3"><stop offset="0" stop-color="#9db5bd"/><stop offset="0.35" stop-color="#6e858c"/><stop offset="0.55" stop-color="#303234"/><stop offset="1" stop-color="#4a3f35"/></linearGradient>
</defs>
<g transform="translate(818,1146) scale(0.21768)" filter="url(#blur3)">
  <!-- top-left finger boxes -->
  <polygon points="300,200 490,140 555,260 615,400 600,470 430,520 330,430" fill="#c7d2d5"/>
  <polygon points="105,375 320,335 420,470 440,560 190,650 120,520" fill="url(#evBox)"/>
  <polygon points="170,560 420,480 450,560 190,650" fill="#b5c3c6"/>
  <polygon points="430,470 560,500 570,600 480,650" fill="#000"/>
  <polygon points="240,420 380,400 430,520 260,560" fill="#93a2a6"/>
  <!-- top-right finger -->
  <polygon points="1050,240 1215,240 1220,390 1050,390" fill="#d3d8d9"/>
  <polygon points="1030,340 1245,340 1240,620 1060,630" fill="#c5cfd1"/>
  <polygon points="1090,600 1210,600 1200,780 1110,760" fill="#33454a"/>
  <!-- base top -->
  <polygon points="480,650 580,560 1130,700 1160,760 1080,990 480,975" fill="#c9d2d5"/>
  <ellipse cx="500" cy="760" rx="45" ry="35" fill="#c8a5a5"/>
  <ellipse cx="480" cy="860" rx="40" ry="60" fill="#b39c7a" opacity="0.7"/>
  <!-- base front -->
  <polygon points="470,975 1000,985 1100,1110 1010,1240 500,1160" fill="#a2b5bb"/>
  <ellipse cx="980" cy="1010" rx="70" ry="35" fill="#c79a9a"/>
  <!-- object -->
  <polygon points="565,495 710,420 900,420 1035,500 800,600" fill="#cfd5d7"/>
  <polygon points="565,495 800,600 800,895 575,770" fill="#a9bec5"/>
  <polygon points="800,600 1035,500 1025,770 800,895" fill="#7e6c58"/>
  <polygon points="690,585 800,510 800,655 690,725" fill="#6b5a47"/>
  <polygon points="800,510 910,590 910,690 800,655" fill="#9db3b9"/>
  <polygon points="690,725 800,655 910,690 800,770" fill="#b6c6cb"/>
  <!-- left finger -->
  <polygon points="230,620 470,600 480,700 260,720" fill="#d6dbdc"/>
  <polygon points="160,720 390,700 440,760 420,1010 300,1050 100,1010 110,850" fill="url(#evBox)"/>
  <polygon points="200,1030 490,1030 490,1250 300,1330 240,1200" fill="url(#evStem)"/>
  <!-- right finger -->
  <polygon points="870,800 1000,780 1100,790 1110,960 880,950" fill="#d5dadb"/>
  <polygon points="1100,790 1450,810 1440,1010 1100,1000" fill="#c5d0d3"/>
  <polygon points="1080,1000 1420,1080 1410,1150 1080,1120" fill="#aab8bb"/>
  <polygon points="1030,1150 1290,1150 1280,1400 1150,1450 1030,1320" fill="url(#evStem)"/>
  <polygon points="1110,1140 1250,1150 1240,1300 1110,1300" fill="#3c4a4e"/>
</g>
<g fill="#fff"><circle cx="1164" cy="1324.5" r="4.6"/><circle cx="1181.5" cy="1324.5" r="4.6"/><circle cx="1199" cy="1324.5" r="4.6"/></g>
<g transform="translate(1180,1146) scale(0.21768)" filter="url(#blur3)">
  <!-- top finger -->
  <polygon points="540,160 650,105 790,180 820,230 720,260 700,390 540,340" fill="#d3d8d9"/>
  <polygon points="535,280 700,300 700,400 540,350" fill="#b8c3c6"/>
  <polygon points="690,400 900,420 910,490 720,545" fill="#cdd3d5"/><polygon points="610,400 700,400 705,570 620,560" fill="#5d6c71"/><polygon points="700,500 900,480 880,530 720,560" fill="#8d9ba0"/>
  <polygon points="720,240 850,250 900,310 880,380 820,390 720,350" fill="#dde1e2"/>
  <!-- base -->
  <polygon points="600,700 790,560 1170,740 1100,950 660,1080 600,900" fill="#cad2d4"/>
  <ellipse cx="670" cy="930" rx="55" ry="85" fill="#b4a080" opacity="0.45"/>
  <polygon points="660,1080 1100,950 1180,1140 720,1260" fill="#a5b4b8"/>
  <polygon points="660,1080 760,1060 720,1260 680,1200" fill="#44545a"/>
  <!-- object -->
  <polygon points="720,780 970,790 960,850 800,865" fill="#050a0c"/>
  <polygon points="690,600 760,500 860,470 1005,560 890,620" fill="#d5dadb"/>
  <polygon points="690,600 890,620 890,830 720,800" fill="#b3c1c5"/>
  <polygon points="890,620 1005,560 1010,790 890,830" fill="#8e806c"/>
  <!-- left finger -->
  <polygon points="380,600 565,580 590,720 600,800 375,830 370,720" fill="#d9dcdd"/>
  <polygon points="370,730 610,740 610,830 375,830" fill="#bfc8ca"/>
  <polygon points="390,880 600,900 650,1250 420,1280 400,1100" fill="url(#evBox)"/>
  <polygon points="430,1280 690,1250 680,1380 560,1470 470,1400" fill="url(#evStem)"/>
  <!-- right finger -->
  <polygon points="1050,830 1210,720 1260,830 1250,900 1090,920" fill="#cfd6d7"/>
  <polygon points="1210,690 1510,660 1560,760 1550,900 1260,930" fill="#c9d1d3"/>
  <polygon points="1180,930 1420,960 1400,1280 1180,1260" fill="url(#evStem)"/>
  <polygon points="1260,800 1450,820 1440,1080 1270,1060" fill="#6b7b80" opacity="0.8"/>
</g>


<!-- feedback arrow -->
<path d="M1541,1309.9 H1608.3 V454.5 H1550" fill="none" stroke="#000" stroke-width="7" stroke-linejoin="round"/>
<path d="M1508.4,454.5 L1553,438 V471 Z" fill="#000"/>

<!-- ============ RIGHT PANEL ============ -->
<rect x="1672.5" y="196" width="439" height="388" fill="#3a474d"/>
<rect x="1672.5" y="584" width="439" height="414" fill="#cdc6bd"/>
<rect x="1672.5" y="998" width="439" height="438" fill="#c3c0bf"/>
<defs>
<radialGradient id="simBg" cx="0.45" cy="0.6" r="0.75"><stop offset="0" stop-color="#24343a"/><stop offset="0.55" stop-color="#2f3f45"/><stop offset="1" stop-color="#3b484d"/></radialGradient>
<linearGradient id="simFront" x1="0" y1="0" x2="0" y2="1"><stop offset="0" stop-color="#d9bfb0"/><stop offset="1" stop-color="#b69282"/></linearGradient>
<linearGradient id="simCyl" x1="0" y1="0" x2="1" y2="1"><stop offset="0" stop-color="#d8c4b4"/><stop offset="0.5" stop-color="#e3d6ca"/><stop offset="1" stop-color="#c9ad9a"/></linearGradient>
<linearGradient id="simBlueEdge" x1="0" y1="0" x2="1" y2="0"><stop offset="0" stop-color="#cfe0e6"/><stop offset="0.35" stop-color="#d2b9aa"/><stop offset="1" stop-color="#c8a898"/></linearGradient>
<clipPath id="simClip"><rect x="1672.5" y="196" width="439" height="388"/></clipPath>
</defs>
<g clip-path="url(#simClip)">
<rect x="1672.5" y="196" width="439" height="388" fill="url(#simBg)"/>
<g transform="translate(1672,196) scale(0.25747)">
  <g filter="url(#blur8)">
    <polygon points="282,0 766,0 700,30 350,30" fill="#2a140c"/>
    <g stroke="#a9b1b4" stroke-width="16" fill="none" opacity="0.9">
      <path d="M0,242 L516,64 L766,-10"/>
      <path d="M306,-10 L516,64 L1709,282"/>
    </g>
    <polygon points="280,1100 500,1050 700,1150 650,1230 400,1230" fill="#23343b" opacity="0.8"/>
  </g>
  <polygon points="430,1280 520,1220 650,1200 900,1270 1000,1160 1100,1060 1300,1000 1350,920 1500,1040 1650,1090 1660,1200 1450,1260 1350,1370 1250,1400 1050,1330 700,1320 480,1340" fill="#1e100b" filter="url(#blur15)"/>
  <g filter="url(#blur3)">
  <!-- far right ring part -->
  <polygon points="1280,320 1430,310 1440,440 1400,600 1300,620 1270,540" fill="#d0b2a2"/>
  <polygon points="1090,480 1240,460 1260,520 1300,620 1500,520 1510,580 1500,680 1380,900 1290,980 1110,1000 1060,880 1060,760 1100,620" fill="#cdb09f"/>
  <g stroke="#efe6df" stroke-width="8" fill="none" opacity="0.8"><path d="M1055,770 L1300,740"/><path d="M1058,800 L1300,770"/><path d="M1060,830 L1300,800"/></g>
  <polygon points="1060,1000 1160,980 1290,980 1260,1050 1100,1080" fill="#2c2c2c"/>
  <!-- left ring -->
  <polygon points="290,600 330,580 560,700 575,760 540,900 590,1000 610,1090 450,1020 420,960 290,800" fill="url(#simBlueEdge)"/>
  <g stroke="#efe6df" stroke-width="8" fill="none" opacity="0.8"><path d="M330,610 L560,720"/><path d="M325,640 L560,750"/><path d="M320,670 L560,780"/></g>
  <polygon points="440,410 600,400 625,440 620,600 560,700 500,690 440,600" fill="#d4b8a8"/>
  <polygon points="430,290 460,280 470,420 440,410" fill="#d7e6ea"/>
  <polygon points="450,140 610,120 635,145 640,230 470,250 445,230" fill="#d9c6ba"/>
  <polygon points="455,250 630,220 655,245 650,395 510,420 460,400" fill="#cfb3a3"/>
  <polygon points="455,250 630,220 655,245 470,275" fill="#e6ded8"/>
  <!-- palm -->
  <ellipse cx="900" cy="688" rx="80" ry="40" fill="#0a1aa0"/>
  <polygon points="650,265 935,225 1040,265 1045,440 640,420" fill="#ebe8e4"/>
  <polygon points="640,420 1040,440 1040,670 870,680 690,650 640,600" fill="url(#simFront)"/>
  <!-- top center / right cubes -->
  <polygon points="975,85 1100,65 1115,85 1115,215 1060,240 985,215" fill="#d6beb0"/>
  <polygon points="1065,215 1140,220 1145,250 1070,250" fill="#dcc4b4"/>
  <polygon points="1035,275 1160,250 1250,330 1240,460 1130,470 1040,420" fill="#d1b6a7"/>
  <polygon points="1035,275 1160,250 1190,290 1060,320" fill="#e2e8ea"/>
  <polygon points="1220,155 1395,140 1405,160 1400,300 1250,310 1230,295" fill="#d8c1b2"/>
  <polygon points="1220,155 1395,140 1405,160 1235,180" fill="#ece6e1"/>
  <polygon points="1100,460 1240,450 1230,740 1110,760 1060,640" fill="#d5bbac"/>
  <!-- middle bottom -->
  <polygon points="560,690 760,650 780,800 660,850 610,1000 560,900" fill="#c2a696"/>
  <polygon points="300,760 360,790 420,960 330,880" fill="#cfe1e7" opacity="0.7"/>
  <polygon points="1030,600 1100,610 1070,880 1040,900 1010,800" fill="#c9ad9c"/>
  <polygon points="600,650 760,640 760,820 640,830" fill="#a98a7a"/>
  <polygon points="640,850 760,770 1020,900 1030,1060 910,1270 640,1100" fill="url(#simCyl)"/>
  <polygon points="1020,900 1040,980 1010,1150 920,1270 900,1250 980,1080" fill="#3a3a3a"/>
  <g stroke="#c4a896" stroke-width="5" fill="none" opacity="0.7"><path d="M700,820 L660,1080"/><path d="M780,840 L740,1130"/><path d="M860,870 L820,1180"/></g>
  </g>
</g>
</g>

<defs>
<linearGradient id="ph1Bg" x1="0" y1="0" x2="0" y2="1"><stop offset="0" stop-color="#c2b7aa"/><stop offset="0.15" stop-color="#d3cbc1"/><stop offset="0.5" stop-color="#d9d3ca"/><stop offset="1" stop-color="#dcd9d3"/></linearGradient>
<radialGradient id="ball" cx="0.42" cy="0.3" r="0.75"><stop offset="0" stop-color="#f2bc46"/><stop offset="0.65" stop-color="#e2a22a"/><stop offset="1" stop-color="#c98a1c"/></radialGradient>
<linearGradient id="ph1Side" x1="0" y1="0" x2="1" y2="0"><stop offset="0" stop-color="#e6e2dc" stop-opacity="0.35"/><stop offset="0.6" stop-color="#d0c6ba" stop-opacity="0"/><stop offset="1" stop-color="#bfb2a3" stop-opacity="0.3"/></linearGradient>
<clipPath id="ph1Clip"><rect x="1672.5" y="584" width="439" height="414"/></clipPath>
</defs>
<g clip-path="url(#ph1Clip)">
<rect x="1672.5" y="584" width="439" height="414" fill="url(#ph1Bg)"/>
<rect x="1672.5" y="584" width="439" height="414" fill="url(#ph1Side)"/>
<g transform="translate(1672,584) scale(0.27465)">
  <g filter="url(#blur8)" opacity="0.5">
    <polygon points="1100,0 1602,0 1602,500 1350,300" fill="#c8bcae"/>
    <polygon points="0,300 300,150 500,250 200,500 0,600" fill="#e4e0da"/>
    <polygon points="0,1150 300,1250 1602,1280 1602,1507 0,1507" fill="#e6e2dc"/>
  </g>
  <g filter="url(#blur3)">
  <!-- cables left -->
  <g fill="none" stroke="#151515" stroke-width="12">
    <path d="M90,1090 C70,1160 30,1230 0,1270"/>
    <path d="M125,1090 C110,1170 50,1260 0,1310"/>
    <path d="M160,1085 C170,1130 260,1140 340,1110"/>
    <path d="M190,1080 C220,1110 300,1100 360,1080"/>
    <path d="M0,1390 C150,1380 300,1370 440,1370"/>
    <path d="M0,1370 C120,1360 250,1350 420,1355"/>
  </g>
  <polygon points="15,1040 205,1025 210,1075 20,1090" fill="#557a55"/>
  <polygon points="45,1040 190,1030 195,1065 50,1075" fill="#dedbd5"/>
  <!-- top center module -->
  <polygon points="640,190 700,183 870,195 895,260 885,420 800,425 610,405 625,300" fill="#131313"/>
  <polygon points="655,245 715,245 718,400 662,402" fill="#e9e7e2"/>
  <!-- left upper arm -->
  <polygon points="210,540 330,370 440,330 470,400 600,420 840,490 830,615 690,640 600,610 560,640 520,650 430,610 370,590 290,660 230,640" fill="#141414"/>
  <!-- left middle -->
  <polygon points="160,730 300,700 420,720 560,650 600,700 560,860 550,880 460,900 380,960 290,975 190,960 180,880" fill="#161616"/>
  <!-- left lower column -->
  <polygon points="270,980 420,900 560,880 580,1000 590,1160 560,1240 550,1320 480,1380 380,1370 360,1200 340,1060 290,1020" fill="#151515"/>
  <!-- platform -->
  <polygon points="560,700 640,650 1000,690 1150,770 1140,830 1080,860 870,890 570,880" fill="#1c1b1b"/>
  <polygon points="570,870 870,880 1080,860 1120,900 1100,1130 900,1160 650,1170 600,1280 590,1160" fill="#141414"/>
  <polygon points="700,940 1060,930 1060,1060 720,1060" fill="#202020"/>
  <!-- ball -->
  <circle cx="822" cy="622" r="190" fill="url(#ball)"/>
  <polygon points="560,440 700,450 840,500 830,610 700,640 580,620" fill="#151515"/>
  <!-- right cluster -->
  <polygon points="1020,450 1090,400 1190,420 1220,340 1340,330 1460,470 1420,600 1480,640 1550,780 1500,940 1340,980 1300,1030 1340,1100 1310,1200 1230,1230 1180,1240 1100,1240 1080,1170 1020,1130 1120,1100 1110,900 1150,830 1180,680 1100,600 1030,560" fill="#141414"/>
  <polygon points="1330,720 1390,700 1400,750 1340,770" fill="#e0ddd8"/>
  <g fill="#3a3a3a">
    <circle cx="600" cy="560" r="40"/><circle cx="480" cy="810" r="45"/><circle cx="515" cy="1050" r="40"/>
    <polygon points="590,450 700,470 720,620 600,620" opacity="0.6"/>
    <polygon points="1190,360 1330,340 1450,470 1280,500" opacity="0.5"/>
  </g>
  <g fill="#111"><circle cx="600" cy="560" r="18"/><circle cx="480" cy="810" r="20"/><circle cx="515" cy="1050" r="18"/></g>
  <polygon points="300,700 345,700 345,740 300,740" fill="#dcd9d3"/>
  <polygon points="700,950 1060,930 1065,960 705,985" fill="#2e2e2e"/>
  <polygon points="1130,1160 1175,1160 1175,1205 1130,1205" fill="#dcd9d3"/>
  <polygon points="540,1290 575,1290 575,1320 540,1320" fill="#dcd9d3"/>
  </g>
</g>
</g>

<defs>
<linearGradient id="ph2Bg" x1="0" y1="0" x2="0" y2="1"><stop offset="0" stop-color="#cdc8c3"/><stop offset="0.4" stop-color="#d6d2cd"/><stop offset="0.7" stop-color="#d2cfcb"/><stop offset="1" stop-color="#c9c6c4"/></linearGradient>
<clipPath id="ph2Clip"><rect x="1672.5" y="998" width="439" height="438"/></clipPath>
</defs>
<g clip-path="url(#ph2Clip)">
<rect x="1672.5" y="998" width="439" height="438" fill="url(#ph2Bg)"/>
<g transform="translate(1672,998) scale(0.29063)">
  <g filter="url(#blur3)">
  <!-- finger stubs -->
  <path d="M465,560 V430 Q465,380 532,380 Q600,380 600,430 V560 Z" fill="#141414"/>
  <polygon points="450,535 630,540 630,610 450,600" fill="#161616"/>
  <path d="M765,530 V425 Q765,372 828,372 Q890,372 890,425 V530 Z" fill="#141414"/>
  <polygon points="740,515 915,515 915,640 740,620" fill="#161616"/>
  <polygon points="460,600 535,600 535,880 460,880" fill="#151515"/>
  <!-- left arm -->
  <polygon points="30,660 90,480 140,450 240,540 380,545 470,565 510,610 500,680 420,700 320,700 270,740 200,700 40,700" fill="#131313"/>
  <polygon points="20,810 100,760 230,780 330,780 420,860 430,1070 380,1070 320,1000 230,980 130,990 20,880" fill="#141414"/>
  <polygon points="240,1030 380,1030 392,1215 320,1212 270,1150" fill="#151515"/>
  <!-- platform -->
  <polygon points="390,1160 430,1190 560,1280 1000,1250 1040,1250 1180,1270 1180,1360 980,1390 860,1300 600,1290 400,1250" fill="#141414"/>
  <polygon points="420,1000 560,1080 1000,1090 1010,1250 560,1280 420,1190" fill="#121212"/>
  <polygon points="400,950 470,890 530,870 920,870 1060,940 1040,1060 1000,1090 560,1080 400,990" fill="#1b1b1b"/>
  <!-- cube -->
  <polygon points="525,625 690,680 690,990 530,900" fill="#eceae6"/>
  <polygon points="690,680 930,660 920,935 690,990" fill="#e3e1dd"/>
  <polygon points="525,625 600,580 850,580 930,660 690,680" fill="#f5f3f0"/>
  <!-- right arm -->
  <polygon points="940,560 990,505 1130,510 1370,510 1400,470 1420,520 1420,680 1460,860 1480,960 1420,1040 1330,1060 1250,1120 1210,1250 1080,1250 1050,1100 1060,960 1010,850 900,850 850,830 840,760 870,710 1010,680 1050,640 950,620" fill="#131313"/>
  <g fill="none" stroke="#141414" stroke-width="8">
    <path d="M1250,1100 C1330,1150 1420,1250 1380,1300 C1330,1330 1270,1280 1250,1200"/>
    <path d="M1300,1050 C1400,1100 1460,1200 1400,1280"/>
    <path d="M1420,900 C1480,880 1500,950 1440,1010"/>
  </g>
  <g fill="#d8dde0"><circle cx="1160" cy="790" r="16"/><circle cx="1270" cy="930" r="16"/><circle cx="1160" cy="1080" r="16"/><circle cx="1310" cy="700" r="12"/></g>
  <g fill="#333"><circle cx="190" cy="660" r="30"/><circle cx="160" cy="820" r="28"/><circle cx="270" cy="960" r="28"/></g>
  <polygon points="1140,680 1200,670 1210,710 1150,720" fill="#e6e4e0"/>
  <!-- cables left -->
  <g fill="none" stroke-width="8">
    <path d="M0,1080 C100,1070 200,1070 260,1090" stroke="#161616"/>
    <path d="M0,1135 C80,1140 160,1150 230,1120" stroke="#161616"/>
    <path d="M0,1160 C50,1165 90,1175 120,1190" stroke="#eeeeee"/>
    <path d="M0,1150 C50,1155 90,1160 120,1175" stroke="#b03a3a" stroke-width="5"/>
    <path d="M120,1190 C200,1180 260,1150 300,1120" stroke="#161616"/>
  </g>
  <polygon points="60,1215 130,1200 280,1290 250,1330 60,1255" fill="#3f7a5a"/>
  <polygon points="1040,1320 1100,1320 1100,1355 1040,1355" fill="#dedbd6"/>
  <polygon points="340,1195 380,1195 380,1230 340,1230" fill="#dedbd6"/>
  </g>
</g>
</g>

<rect x="1672.5" y="65.5" width="439" height="130.5" fill="#0e333d" stroke="#000" stroke-width="2.5"/>
<rect x="1672.5" y="196" width="439" height="1240" fill="none" stroke="#000" stroke-width="1.5"/>
<text x="1892" y="119" font-size="50" font-weight="bold" fill="#fff" text-anchor="middle" textLength="254" lengthAdjust="spacingAndGlyphs">Sim-to-Real</text>
<text x="1892" y="182" font-size="50" font-weight="bold" fill="#fff" text-anchor="middle" textLength="311" lengthAdjust="spacingAndGlyphs">Generalization</text>

</svg>
</body></html>
